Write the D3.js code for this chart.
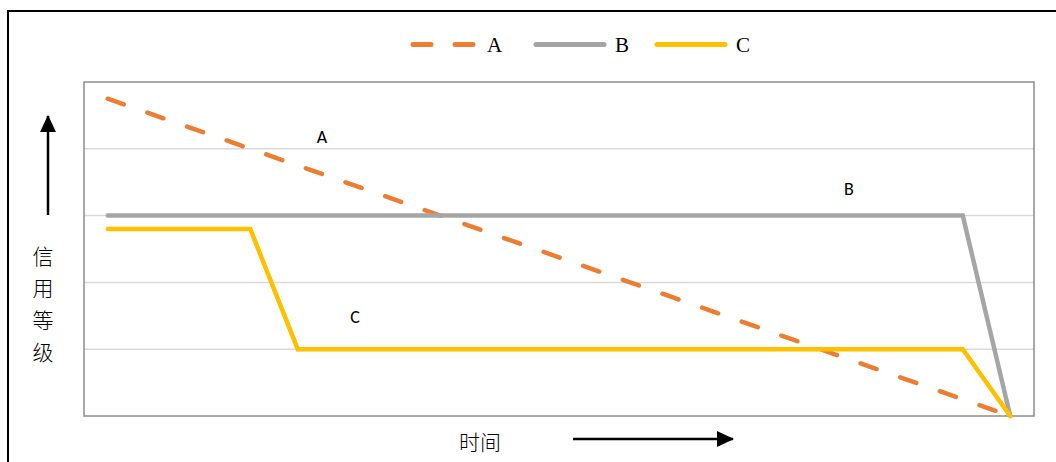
<!DOCTYPE html>
<html>
<head>
<meta charset="utf-8">
<script src="https://cdn.jsdelivr.net/npm/d3@7"></script>
<style>
  html, body { margin: 0; padding: 0; background: #fff; }
  svg { display: block; }
</style>
</head>
<body>
<script>
// Time periods along the horizontal axis (no tick labels are shown)
const categories = ["t1","t2","t3","t4","t5","t6","t7","t8","t9","t10",
                    "t11","t12","t13","t14","t15","t16","t17","t18","t19","t20"];

// Credit rating over time for each series (null = no point)
const seriesA = [4.75, null, null, null, null, null, null, null, null, null,
                 null, null, null, null, null, null, null, null, null, 0];
const seriesB = [3, 3, 3, 3, 3, 3, 3, 3, 3, 3,
                 3, 3, 3, 3, 3, 3, 3, 3, 3, 0];
const seriesC = [2.8, 2.8, 2.8, 2.8, 1, 1, 1, 1, 1, 1,
                 1, 1, 1, 1, 1, 1, 1, 1, 1, 0];

const seriesNames = ["A", "B", "C"];
const yTicks = [0, 1, 2, 3, 4, 5];

const W = 1056, H = 462;
const plot = { left: 84, right: 1034, top: 82, bottom: 416 };

const svg = d3.select("body").append("svg")
  .attr("width", W).attr("height", H);

const defs = svg.append("defs");
defs.append("marker")
  .attr("id", "arrowHead")
  .attr("viewBox", "0 0 17 16")
  .attr("refX", 16).attr("refY", 8)
  .attr("markerWidth", 17).attr("markerHeight", 16)
  .attr("markerUnits", "userSpaceOnUse")
  .attr("orient", "auto")
  .append("path")
  .attr("d", "M0,0 L17,8 L0,16 Z")
  .attr("fill", "#000");

// outer frame
svg.append("rect")
  .attr("x", 8).attr("y", 11)
  .attr("width", W + 20).attr("height", H + 20)
  .attr("fill", "none").attr("stroke", "#000").attr("stroke-width", 2);

const x = d3.scalePoint()
  .domain(categories)
  .range([plot.left, plot.right])
  .padding(0.5);

const y = d3.scaleLinear()
  .domain([0, 5])
  .range([plot.bottom, plot.top]);

// horizontal gridlines
svg.append("g")
  .selectAll("line")
  .data(yTicks.filter(t => t > 0 && t < 5))
  .join("line")
  .attr("x1", plot.left).attr("x2", plot.right)
  .attr("y1", d => y(d)).attr("y2", d => y(d))
  .attr("stroke", "#d9d9d9").attr("stroke-width", 1.5);

// plot area border
svg.append("rect")
  .attr("x", plot.left).attr("y", plot.top)
  .attr("width", plot.right - plot.left)
  .attr("height", plot.bottom - plot.top)
  .attr("fill", "none").attr("stroke", "#8c8c8c").attr("stroke-width", 1.5);

const colors = { A: "#ED7D31", B: "#A5A5A5", C: "#FFC000" };
const dashes = { A: "17,25", B: null, C: null };
const seriesData = { A: seriesA, B: seriesB, C: seriesC };

const line = d3.line()
  .x(d => x(d.cat))
  .y(d => y(d.v));

seriesNames.forEach(name => {
  const pts = seriesData[name]
    .map((v, i) => ({ cat: categories[i], v }))
    .filter(d => d.v !== null);
  svg.append("path")
    .datum(pts)
    .attr("d", line)
    .attr("fill", "none")
    .attr("stroke", colors[name])
    .attr("stroke-width", 4.5)
    .attr("stroke-linecap", "round")
    .attr("stroke-linejoin", "miter")
    .attr("stroke-dasharray", dashes[name]);
});

// in-plot series annotations
const notes = [
  { t: "A", x: 322, y: 143 },
  { t: "B", x: 849, y: 195 },
  { t: "C", x: 355, y: 323 }
];
svg.append("g").selectAll("text")
  .data(notes)
  .join("text")
  .attr("x", d => d.x).attr("y", d => d.y)
  .attr("text-anchor", "middle")
  .attr("font-family", "Carlito, 'Liberation Sans', Arial, sans-serif")
  .attr("font-size", 18)
  .attr("fill", "#000")
  .text(d => d.t);

// legend
const legendItems = [
  { name: "A", x1: 413, x2: 476 },
  { name: "B", x1: 536, x2: 604 },
  { name: "C", x1: 657, x2: 725 }
];
const lg = svg.append("g");
legendItems.forEach(it => {
  lg.append("line")
    .attr("x1", it.x1).attr("x2", it.x2)
    .attr("y1", 44.5).attr("y2", 44.5)
    .attr("stroke", colors[it.name])
    .attr("stroke-width", 5)
    .attr("stroke-linecap", "round")
    .attr("stroke-dasharray", it.name === "A" ? "18,24" : null);
  lg.append("text")
    .attr("x", it.x2 + 11).attr("y", 52)
    .attr("font-family", "'Liberation Serif', 'Times New Roman', serif")
    .attr("font-size", 21)
    .attr("fill", "#000")
    .text(it.name);
});

// vertical axis caption with upward arrow
svg.append("line")
  .attr("x1", 48).attr("x2", 48)
  .attr("y1", 215).attr("y2", 116)
  .attr("stroke", "#000").attr("stroke-width", 2.5)
  .attr("marker-end", "url(#arrowHead)");

const yLabel = ["信", "用", "等", "级"];
svg.append("g").selectAll("text")
  .data(yLabel)
  .join("text")
  .attr("x", 43)
  .attr("y", (d, i) => 264 + i * 32)
  .attr("text-anchor", "middle")
  .attr("font-family", "'Noto Sans CJK SC', sans-serif")
  .attr("font-weight", 300)
  .attr("font-size", 21)
  .attr("fill", "#000")
  .text(d => d);

// horizontal axis caption with rightward arrow
svg.append("text")
  .attr("x", 480).attr("y", 450)
  .attr("text-anchor", "middle")
  .attr("font-family", "'Noto Sans CJK SC', sans-serif")
  .attr("font-weight", 300)
  .attr("font-size", 21)
  .attr("fill", "#000")
  .text("时间");

svg.append("line")
  .attr("x1", 573).attr("x2", 733)
  .attr("y1", 439).attr("y2", 439)
  .attr("stroke", "#000").attr("stroke-width", 2.5)
  .attr("marker-end", "url(#arrowHead)");
</script>
</body>
</html>
